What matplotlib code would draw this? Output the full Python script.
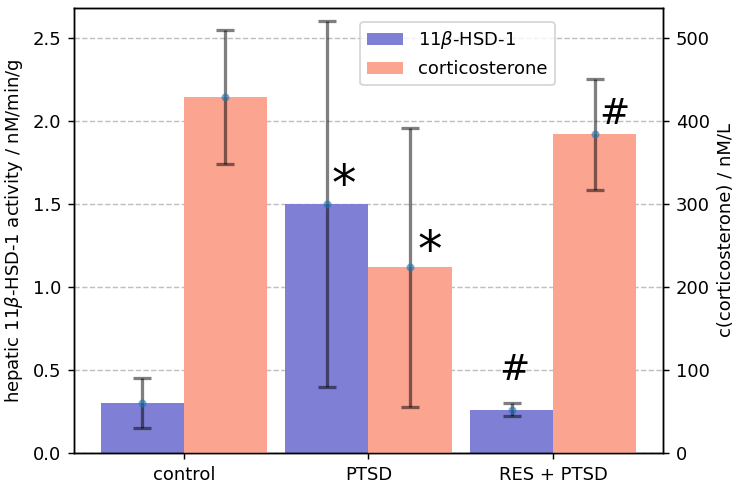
import matplotlib
matplotlib.use("Agg")
import matplotlib.pyplot as plt
import numpy as np

groups = ["control", "PTSD", "RES + PTSD"]
hsd_mean = [0.30, 1.50, 0.26]
hsd_err = [0.15, 1.10, 0.04]
cort_mean = [429, 224, 384]
cort_err = [81, 168, 67]
hsd_marks = ["", "$*$", "#"]
cort_marks = ["", "$*$", "#"]

blue = "#7f7fd5"
salmon = "#fba48f"

fig = plt.figure(figsize=(5.7, 488 / 130), dpi=130)
ax = fig.add_axes([74 / 741, 35 / 488, 589 / 741, 445 / 488])
ax2 = ax.twinx()

x = np.arange(len(groups))
w = 0.45

ax.set_axisbelow(True)
ax.grid(axis="y", linestyle="--", color="#b0b0b0", linewidth=0.8, alpha=0.8)
b1 = ax.bar(x - w / 2, hsd_mean, w, color=blue, label=r"11$\beta$-HSD-1")
ax.errorbar(x - w / 2, hsd_mean, yerr=hsd_err, fmt="o", color="C0", markersize=3.5,
            ecolor="black", elinewidth=1.8, capsize=5, capthick=1.8, alpha=0.5)
b2 = ax2.bar(x + w / 2, cort_mean, w, color=salmon, label="corticosterone")
ax2.errorbar(x + w / 2, cort_mean, yerr=cort_err, fmt="o", color="C0", markersize=3.5,
             ecolor="black", elinewidth=1.8, capsize=5, capthick=1.8, alpha=0.5)

hsd_dx = [0, 0.09, 0.015]
hsd_dy = [0, 0.12, 0.24]
cort_dx = [0, 0.105, 0.105]
cort_dy = [0, 21, 24]


def mark_size(m):
    return 27 if "*" in m else 20


for i in range(len(groups)):
    if hsd_marks[i]:
        ax.text(x[i] - w / 2 + hsd_dx[i], hsd_mean[i] + hsd_dy[i],
                hsd_marks[i], fontsize=mark_size(hsd_marks[i]), ha="center", va="center")
    if cort_marks[i]:
        ax2.text(x[i] + w / 2 + cort_dx[i], cort_mean[i] + cort_dy[i], cort_marks[i],
                 fontsize=mark_size(cort_marks[i]), ha="center", va="center")

ax.set_ylim(0, 2.68)
ax2.set_ylim(0, 536)
ax.set_xticks(x)
ax.set_xticklabels(groups)
ax.set_ylabel(r"hepatic 11$\beta$-HSD-1 activity / nM/min/g")
ax2.set_ylabel("c(corticosterone) / nM/L")

ax2.legend([b1, b2], [r"11$\beta$-HSD-1", "corticosterone"], loc="upper left",
           bbox_to_anchor=(286 / 589, 431 / 445), borderaxespad=0)

fig.savefig("out.png", dpi=130)
